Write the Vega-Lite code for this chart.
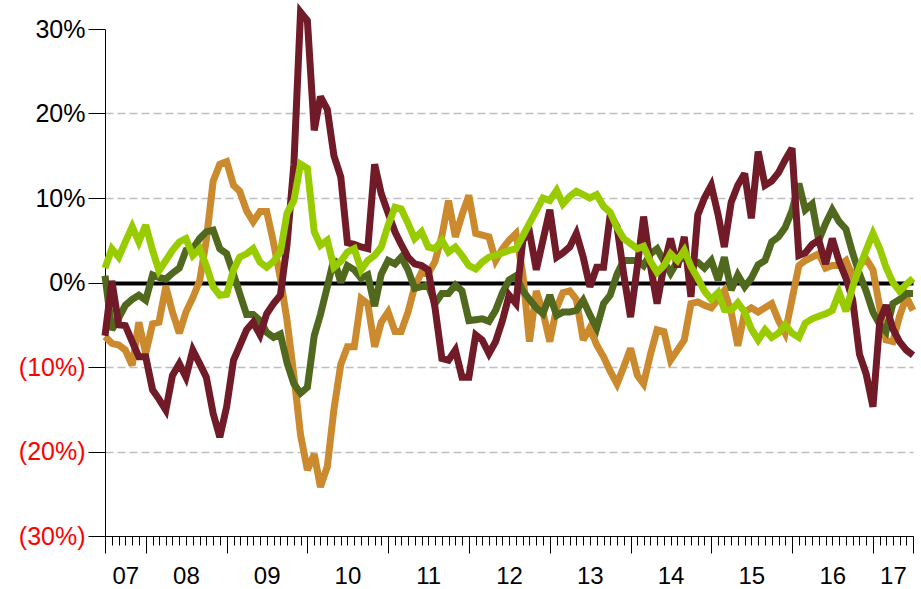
{
"$schema": "https://vega.github.io/schema/vega-lite/v6.json",
"width": 808, "height": 507,
"autosize": {"type": "none"},
"padding": {"left": 105, "top": 29, "right": 8, "bottom": 53},
"background": "white",
"config": {"view": {"stroke": null}, "axis": {"labelFont": "Liberation Sans", "titleFont": "Liberation Sans"}},
"data": {"values": [
{"d":"2007-07-01","maroon":-6.3,"orange":-6.4,"olive":0.8,"green":1.7},
{"d":"2007-08-01","maroon":0.2,"orange":-7.2,"olive":-5.6,"green":4.0},
{"d":"2007-09-01","maroon":-5.0,"orange":-7.4,"olive":-4.2,"green":3.0},
{"d":"2007-10-01","maroon":-5.1,"orange":-8.0,"olive":-2.7,"green":4.8},
{"d":"2007-11-01","maroon":-7.0,"orange":-9.8,"olive":-2.0,"green":6.6},
{"d":"2007-12-01","maroon":-8.8,"orange":-4.7,"olive":-1.5,"green":4.8},
{"d":"2008-01-01","maroon":-8.8,"orange":-8.4,"olive":-2.1,"green":6.8},
{"d":"2008-02-01","maroon":-12.7,"orange":-4.9,"olive":0.9,"green":3.8},
{"d":"2008-03-01","maroon":-13.8,"orange":-4.7,"olive":0.6,"green":1.4},
{"d":"2008-04-01","maroon":-15.1,"orange":-0.5,"olive":0.4,"green":2.6},
{"d":"2008-05-01","maroon":-11.0,"orange":-3.5,"olive":1.1,"green":3.8},
{"d":"2008-06-01","maroon":-9.6,"orange":-6.0,"olive":1.7,"green":4.8},
{"d":"2008-07-01","maroon":-11.2,"orange":-3.5,"olive":3.8,"green":5.2},
{"d":"2008-08-01","maroon":-8.0,"orange":-1.8,"olive":4.0,"green":3.2},
{"d":"2008-09-01","maroon":-9.6,"orange":0.2,"olive":5.2,"green":4.0},
{"d":"2008-10-01","maroon":-11.2,"orange":5.0,"olive":6.0,"green":2.0},
{"d":"2008-11-01","maroon":-15.5,"orange":12.0,"olive":6.2,"green":-0.5},
{"d":"2008-12-01","maroon":-18.3,"orange":14.0,"olive":4.0,"green":-1.5},
{"d":"2009-01-01","maroon":-14.7,"orange":14.3,"olive":3.4,"green":-1.4},
{"d":"2009-02-01","maroon":-9.2,"orange":11.5,"olive":1.0,"green":1.5},
{"d":"2009-03-01","maroon":-7.5,"orange":10.8,"olive":-1.3,"green":3.0},
{"d":"2009-04-01","maroon":-5.6,"orange":8.5,"olive":-3.8,"green":3.4},
{"d":"2009-05-01","maroon":-4.7,"orange":7.2,"olive":-3.8,"green":4.0},
{"d":"2009-06-01","maroon":-6.2,"orange":8.4,"olive":-4.5,"green":2.4},
{"d":"2009-07-01","maroon":-3.7,"orange":8.4,"olive":-5.9,"green":1.8},
{"d":"2009-08-01","maroon":-2.5,"orange":4.7,"olive":-6.5,"green":2.5},
{"d":"2009-09-01","maroon":-1.5,"orange":0.5,"olive":-6.1,"green":3.6},
{"d":"2009-10-01","maroon":4.5,"orange":-4.5,"olive":-9.5,"green":8.2},
{"d":"2009-11-01","maroon":14.0,"orange":-11.0,"olive":-12.0,"green":9.7},
{"d":"2009-12-01","maroon":32.0,"orange":-18.0,"olive":-13.1,"green":14.0},
{"d":"2010-01-01","maroon":31.0,"orange":-22.2,"olive":-12.4,"green":13.5},
{"d":"2010-02-01","maroon":18.0,"orange":-20.3,"olive":-6.3,"green":6.0},
{"d":"2010-03-01","maroon":22.0,"orange":-24.2,"olive":-3.8,"green":4.4},
{"d":"2010-04-01","maroon":20.5,"orange":-21.8,"olive":-0.5,"green":5.0},
{"d":"2010-05-01","maroon":15.0,"orange":-15.0,"olive":2.8,"green":1.8},
{"d":"2010-06-01","maroon":12.5,"orange":-9.7,"olive":0.0,"green":2.5},
{"d":"2010-07-01","maroon":4.7,"orange":-7.6,"olive":2.0,"green":3.6},
{"d":"2010-08-01","maroon":4.5,"orange":-7.6,"olive":1.5,"green":4.0},
{"d":"2010-09-01","maroon":4.2,"orange":-1.9,"olive":0.5,"green":1.5},
{"d":"2010-10-01","maroon":4.0,"orange":-2.5,"olive":0.9,"green":2.6},
{"d":"2010-11-01","maroon":14.0,"orange":-7.6,"olive":-2.8,"green":3.2},
{"d":"2010-12-01","maroon":10.5,"orange":-4.7,"olive":1.0,"green":4.2},
{"d":"2011-01-01","maroon":8.2,"orange":-3.5,"olive":2.6,"green":6.8},
{"d":"2011-02-01","maroon":6.0,"orange":-5.8,"olive":2.2,"green":8.9},
{"d":"2011-03-01","maroon":4.5,"orange":-5.8,"olive":3.0,"green":8.7},
{"d":"2011-04-01","maroon":3.0,"orange":-3.5,"olive":1.5,"green":7.0},
{"d":"2011-05-01","maroon":2.2,"orange":-0.5,"olive":-0.7,"green":5.2},
{"d":"2011-06-01","maroon":2.0,"orange":1.2,"olive":-0.5,"green":6.0},
{"d":"2011-07-01","maroon":1.5,"orange":1.0,"olive":-0.3,"green":4.2},
{"d":"2011-08-01","maroon":-3.0,"orange":2.5,"olive":-2.5,"green":4.0},
{"d":"2011-09-01","maroon":-9.0,"orange":5.5,"olive":-1.3,"green":5.0},
{"d":"2011-10-01","maroon":-9.2,"orange":9.7,"olive":-1.3,"green":3.6},
{"d":"2011-11-01","maroon":-8.0,"orange":5.4,"olive":-0.3,"green":4.2},
{"d":"2011-12-01","maroon":-11.2,"orange":8.0,"olive":-1.0,"green":3.2},
{"d":"2012-01-01","maroon":-11.2,"orange":10.3,"olive":-4.5,"green":2.0},
{"d":"2012-02-01","maroon":-6.2,"orange":5.8,"olive":-4.4,"green":1.6},
{"d":"2012-03-01","maroon":-6.8,"orange":5.6,"olive":-4.3,"green":2.4},
{"d":"2012-04-01","maroon":-8.4,"orange":5.4,"olive":-4.6,"green":3.0},
{"d":"2012-05-01","maroon":-7.0,"orange":2.6,"olive":-3.3,"green":3.2},
{"d":"2012-06-01","maroon":-4.5,"orange":4.0,"olive":-1.2,"green":3.5},
{"d":"2012-07-01","maroon":-1.5,"orange":5.0,"olive":0.3,"green":3.8},
{"d":"2012-08-01","maroon":-2.5,"orange":5.8,"olive":0.8,"green":4.0},
{"d":"2012-09-01","maroon":5.0,"orange":1.0,"olive":-1.0,"green":5.5},
{"d":"2012-10-01","maroon":6.0,"orange":-7.0,"olive":-2.0,"green":7.0},
{"d":"2012-11-01","maroon":1.5,"orange":-1.0,"olive":-3.0,"green":8.5},
{"d":"2012-12-01","maroon":5.0,"orange":-3.5,"olive":-3.7,"green":10.0},
{"d":"2013-01-01","maroon":8.6,"orange":-7.0,"olive":-1.5,"green":9.7},
{"d":"2013-02-01","maroon":3.0,"orange":-3.0,"olive":-3.9,"green":10.9},
{"d":"2013-03-01","maroon":3.5,"orange":-1.2,"olive":-3.5,"green":9.3},
{"d":"2013-04-01","maroon":4.2,"orange":-1.0,"olive":-3.5,"green":10.2},
{"d":"2013-05-01","maroon":5.8,"orange":-2.0,"olive":-3.3,"green":10.8},
{"d":"2013-06-01","maroon":3.0,"orange":-6.8,"olive":-2.1,"green":10.4},
{"d":"2013-07-01","maroon":-0.5,"orange":-5.4,"olive":-3.8,"green":10.0},
{"d":"2013-08-01","maroon":1.8,"orange":-7.4,"olive":-5.4,"green":10.4},
{"d":"2013-09-01","maroon":1.8,"orange":-8.8,"olive":-2.5,"green":9.0},
{"d":"2013-10-01","maroon":8.0,"orange":-10.5,"olive":-1.5,"green":8.3},
{"d":"2013-11-01","maroon":6.6,"orange":-12.0,"olive":1.0,"green":6.5},
{"d":"2013-12-01","maroon":1.0,"orange":-10.0,"olive":2.6,"green":5.2},
{"d":"2014-01-01","maroon":-4.1,"orange":-7.8,"olive":2.6,"green":4.6},
{"d":"2014-02-01","maroon":2.0,"orange":-11.0,"olive":2.6,"green":4.0},
{"d":"2014-03-01","maroon":7.8,"orange":-12.0,"olive":2.0,"green":4.3},
{"d":"2014-04-01","maroon":2.0,"orange":-8.5,"olive":3.4,"green":2.5},
{"d":"2014-05-01","maroon":-2.5,"orange":-5.6,"olive":4.0,"green":1.2},
{"d":"2014-06-01","maroon":2.0,"orange":-5.8,"olive":2.5,"green":2.0},
{"d":"2014-07-01","maroon":5.2,"orange":-9.2,"olive":1.1,"green":3.4},
{"d":"2014-08-01","maroon":1.8,"orange":-8.0,"olive":2.5,"green":2.6},
{"d":"2014-09-01","maroon":5.4,"orange":-6.8,"olive":3.0,"green":3.8},
{"d":"2014-10-01","maroon":-1.7,"orange":-2.5,"olive":2.4,"green":1.9},
{"d":"2014-11-01","maroon":8.0,"orange":-2.3,"olive":2.4,"green":0.5},
{"d":"2014-12-01","maroon":10.0,"orange":-2.7,"olive":1.7,"green":-1.0},
{"d":"2015-01-01","maroon":11.5,"orange":-3.0,"olive":2.6,"green":-2.0},
{"d":"2015-02-01","maroon":8.0,"orange":-2.0,"olive":0.3,"green":-1.2},
{"d":"2015-03-01","maroon":4.2,"orange":-1.0,"olive":3.0,"green":-3.2},
{"d":"2015-04-01","maroon":9.5,"orange":-3.5,"olive":-0.9,"green":-3.3},
{"d":"2015-05-01","maroon":11.5,"orange":-7.5,"olive":0.9,"green":-2.4},
{"d":"2015-06-01","maroon":12.9,"orange":-3.5,"olive":-0.5,"green":-3.5},
{"d":"2015-07-01","maroon":7.6,"orange":-3.0,"olive":0.5,"green":-5.5},
{"d":"2015-08-01","maroon":15.5,"orange":-3.5,"olive":2.1,"green":-6.8},
{"d":"2015-09-01","maroon":11.5,"orange":-3.0,"olive":2.6,"green":-5.6},
{"d":"2015-10-01","maroon":12.0,"orange":-2.5,"olive":4.8,"green":-6.5},
{"d":"2015-11-01","maroon":13.0,"orange":-4.5,"olive":5.4,"green":-6.0},
{"d":"2015-12-01","maroon":14.5,"orange":-6.0,"olive":6.5,"green":-5.0},
{"d":"2016-01-01","maroon":15.9,"orange":-2.0,"olive":8.5,"green":-6.0},
{"d":"2016-02-01","maroon":3.2,"orange":2.0,"olive":11.7,"green":-6.5},
{"d":"2016-03-01","maroon":3.5,"orange":2.6,"olive":8.6,"green":-4.8},
{"d":"2016-04-01","maroon":4.5,"orange":3.0,"olive":9.3,"green":-4.3},
{"d":"2016-05-01","maroon":5.0,"orange":3.4,"olive":5.0,"green":-4.0},
{"d":"2016-06-01","maroon":2.2,"orange":1.7,"olive":7.0,"green":-3.7},
{"d":"2016-07-01","maroon":5.2,"orange":2.0,"olive":8.6,"green":-3.3},
{"d":"2016-08-01","maroon":2.5,"orange":2.0,"olive":7.2,"green":-1.2},
{"d":"2016-09-01","maroon":0.5,"orange":2.6,"olive":6.3,"green":-3.4},
{"d":"2016-10-01","maroon":-2.0,"orange":0.7,"olive":3.5,"green":-0.5},
{"d":"2016-11-01","maroon":-8.5,"orange":2.0,"olive":1.0,"green":1.8},
{"d":"2016-12-01","maroon":-10.8,"orange":2.8,"olive":-1.0,"green":3.8},
{"d":"2017-01-01","maroon":-14.7,"orange":1.5,"olive":-3.5,"green":5.8},
{"d":"2017-02-01","maroon":-4.5,"orange":-3.0,"olive":-5.0,"green":4.0},
{"d":"2017-03-01","maroon":-2.7,"orange":-6.8,"olive":-5.8,"green":1.8},
{"d":"2017-04-01","maroon":-5.5,"orange":-7.0,"olive":-2.5,"green":0.0},
{"d":"2017-05-01","maroon":-7.0,"orange":-4.0,"olive":-2.0,"green":-1.0},
{"d":"2017-06-01","maroon":-8.0,"orange":-1.7,"olive":-1.3,"green":-0.2},
{"d":"2017-07-01","maroon":-8.6,"orange":-3.3,"olive":-1.3,"green":0.5}
]},
"transform": [{"fold": ["orange", "olive", "maroon", "green"], "as": ["series", "value"]}],
"encoding": {
  "y": {"field": "value", "type": "quantitative",
    "scale": {"domain": [-30, 30], "nice": false, "zero": false},
    "axis": {"title": null, "values": [-30, -20, -10, 0, 10, 20, 30],
      "labelExpr": "datum.value < 0 ? '(' + abs(datum.value) + '%)' : datum.value + '%'",
      "labelFontSize": 25, "labelPadding": 3,
      "labelColor": {"condition": {"test": "datum.value < 0", "value": "#FF0000"}, "value": "#000000"},
      "tickSize": 17, "tickColor": "#000000", "tickWidth": 1,
      "domainColor": "#000000", "domainWidth": 1,
      "grid": true,
      "gridColor": {"condition": {"test": "datum.value === 0", "value": "#000000"}, "value": "#BFBFBF"},
      "gridWidth": {"condition": {"test": "datum.value === 0", "value": 4}, "value": 1.5},
      "gridDash": {"condition": {"test": "datum.value === 0", "value": []}, "value": [8, 4]},
      "gridOpacity": {"condition": {"test": "abs(datum.value) > 25", "value": 0}, "value": 1}
    }
  }
},
"layer": [
  {"transform": [{"filter": "datum.series === 'orange'"}],
   "mark": {"type": "line", "color": "#CC8A2E", "strokeWidth": 7, "strokeJoin": "miter", "strokeMiterLimit": 3, "clip": false},
   "encoding": {"x": {"field": "d", "type": "temporal",
     "scale": {"type": "utc", "nice": false, "domain": [{"year": 2007, "month": 7, "date": 1, "utc": true}, {"year": 2017, "month": 7, "date": 1, "utc": true}]},
     "axis": {"orient": "bottom", "title": null, "tickCount": {"interval": "month", "step": 1}, "labels": false, "tickSize": 9, "tickColor": "#000000", "tickWidth": 1, "domain": true, "domainColor": "#000000", "domainWidth": 1, "grid": false}}}},
  {"transform": [{"filter": "datum.series === 'olive'"}],
   "mark": {"type": "line", "color": "#50691E", "strokeWidth": 7, "strokeJoin": "miter", "strokeMiterLimit": 3, "clip": false},
   "encoding": {"x": {"field": "d", "type": "temporal",
     "scale": {"type": "utc", "nice": false, "domain": [{"year": 2007, "month": 7, "date": 1, "utc": true}, {"year": 2017, "month": 7, "date": 1, "utc": true}]},
     "axis": {"orient": "bottom", "title": null, "labels": false, "tickSize": 17, "tickColor": "#000000", "tickWidth": 1, "domain": false, "grid": false,
       "values": [{"year": 2007, "month": 7, "date": 1, "utc": true}, {"year": 2008, "month": 1, "date": 1, "utc": true}, {"year": 2009, "month": 1, "date": 1, "utc": true}, {"year": 2010, "month": 1, "date": 1, "utc": true}, {"year": 2011, "month": 1, "date": 1, "utc": true}, {"year": 2012, "month": 1, "date": 1, "utc": true}, {"year": 2013, "month": 1, "date": 1, "utc": true}, {"year": 2014, "month": 1, "date": 1, "utc": true}, {"year": 2015, "month": 1, "date": 1, "utc": true}, {"year": 2016, "month": 1, "date": 1, "utc": true}, {"year": 2017, "month": 1, "date": 1, "utc": true}, {"year": 2017, "month": 7, "date": 1, "utc": true}]}}}},
  {"transform": [{"filter": "datum.series === 'maroon'"}],
   "mark": {"type": "line", "color": "#701B27", "strokeWidth": 7, "strokeJoin": "miter", "strokeMiterLimit": 3, "clip": false},
   "encoding": {"x": {"field": "d", "type": "temporal",
     "scale": {"type": "utc", "nice": false, "domain": [{"year": 2007, "month": 7, "date": 1, "utc": true}, {"year": 2017, "month": 7, "date": 1, "utc": true}]},
     "axis": {"orient": "bottom", "title": null, "ticks": false, "tickSize": 0, "domain": false, "grid": false, "labelFlush": false, "labelOverlap": false,
       "labelExpr": "utcFormat(datum.value, '%y')", "labelFontSize": 24, "labelPadding": 28, "labelColor": "#000000",
       "values": [{"year": 2007, "month": 10, "date": 1, "utc": true}, {"year": 2008, "month": 7, "date": 1, "utc": true}, {"year": 2009, "month": 7, "date": 1, "utc": true}, {"year": 2010, "month": 7, "date": 1, "utc": true}, {"year": 2011, "month": 7, "date": 1, "utc": true}, {"year": 2012, "month": 7, "date": 1, "utc": true}, {"year": 2013, "month": 7, "date": 1, "utc": true}, {"year": 2014, "month": 7, "date": 1, "utc": true}, {"year": 2015, "month": 7, "date": 1, "utc": true}, {"year": 2016, "month": 7, "date": 1, "utc": true}, {"year": 2017, "month": 4, "date": 1, "utc": true}]}}}},
  {"transform": [{"filter": "datum.series === 'green'"}],
   "mark": {"type": "line", "color": "#99CC00", "strokeWidth": 7, "strokeJoin": "miter", "strokeMiterLimit": 3, "clip": false},
   "encoding": {"x": {"field": "d", "type": "temporal",
     "scale": {"type": "utc", "nice": false, "domain": [{"year": 2007, "month": 7, "date": 1, "utc": true}, {"year": 2017, "month": 7, "date": 1, "utc": true}]},
     "axis": null}}}
],
"resolve": {"scale": {"x": "shared"}, "axis": {"x": "independent"}}
}
